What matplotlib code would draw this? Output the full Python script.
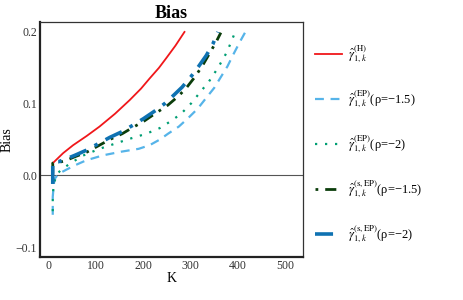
import numpy as np
import matplotlib.pyplot as plt

plt.rcParams['font.family'] = ['Liberation Serif', 'DejaVu Serif']
plt.rcParams['mathtext.fontset'] = 'stix'

# estimator curves (K, bias)
k_h = [8, 30, 51, 80, 107, 140, 171, 195, 213, 233, 249, 268, 287]
bias_h = [0.017, 0.031, 0.042, 0.055, 0.068, 0.086, 0.105, 0.121, 0.135, 0.150,
          0.164, 0.181, 0.200]

k_ep15 = [8, 8, 10, 12, 20, 37, 55, 79, 115, 153, 190, 213, 235, 252, 275, 295,
          315, 333, 350, 363, 378, 390, 405, 416]
bias_ep15 = [-0.055, -0.03, -0.014, -0.005, 0.002, 0.008, 0.014, 0.021, 0.028, 0.033,
             0.037, 0.042, 0.050, 0.058, 0.068, 0.080, 0.093, 0.108, 0.122, 0.136,
             0.152, 0.168, 0.187, 0.200]

k_ep2 = [8, 8, 10, 17, 28, 44, 70, 107, 139, 171, 206, 235, 259, 280, 302, 319,
         339, 358, 377, 392]
bias_ep2 = [-0.050, -0.03, -0.012, 0.002, 0.009, 0.016, 0.027, 0.037, 0.044, 0.051,
            0.058, 0.066, 0.076, 0.086, 0.101, 0.115, 0.131, 0.150, 0.172, 0.196]

k_sep15 = [8, 8, 12, 20, 33, 55, 79, 104, 129, 155, 178, 200, 220, 252, 275, 291,
           310, 326, 340, 354, 364]
bias_sep15 = [-0.011, 0.017, 0.018, 0.018, 0.020, 0.026, 0.032, 0.041, 0.050, 0.058,
              0.067, 0.075, 0.084, 0.098, 0.111, 0.122, 0.138, 0.154, 0.170, 0.186, 0.199]

k_sep2 = [8, 8, 12, 20, 33, 55, 79, 104, 129, 155, 178, 200, 227, 245, 263, 282,
          300, 317, 333, 347, 358]
bias_sep2 = [-0.012, 0.018, 0.019, 0.019, 0.022, 0.028, 0.035, 0.044, 0.053, 0.061,
             0.070, 0.079, 0.091, 0.100, 0.111, 0.123, 0.137, 0.152, 0.167, 0.183, 0.200]

labels = [
    r'$\hat{\gamma}^{(\mathrm{H})}_{1,k}$',
    r'$\hat{\gamma}^{(\mathrm{EP})}_{1,k}$(ρ=−1.5)',
    r'$\hat{\gamma}^{(\mathrm{EP})}_{1,k}$(ρ=−2)',
    r'$\hat{\gamma}^{(\mathrm{s,EP})}_{1,k}$(ρ=−1.5)',
    r'$\hat{\gamma}^{(\mathrm{s,EP})}_{1,k}$(ρ=−2)',
]

fig = plt.figure(figsize=(4.63, 3.0), dpi=100)
ax = fig.add_axes([0.0864, 0.143, 0.568, 0.784])

ax.axhline(0, color='#555555', lw=0.8, zorder=1)
ax.plot(k_h, bias_h, color='#f0171a', lw=1.3, label=labels[0])
ax.plot(k_ep15, bias_ep15, color='#56b4e9', lw=1.6, dashes=(4, 3), label=labels[1])
ax.plot(k_ep2, bias_ep2, color='#009e73', lw=1.6, dashes=(1, 3.5), label=labels[2])
ax.plot(k_sep15, bias_sep15, color='#0b3d0b', lw=2.0, dashes=(1, 2.5, 4, 2.5), label=labels[3])
ax.plot(k_sep2, bias_sep2, color='#0f72b2', lw=2.6, dashes=(5, 2.5, 1, 2.5), label=labels[4])

ax.set_xlim(-19, 538)
ax.set_ylim(-0.114, 0.214)
ax.set_xticks([0, 100, 200, 300, 400, 500])
ax.set_yticks([-0.1, 0.0, 0.1, 0.2])
ax.set_yticklabels(['−0.1', '0.0', '0.1', '0.2'])
ax.tick_params(length=0, labelsize=8.5, pad=2, colors='#333333')
for s in ['left', 'bottom']:
    ax.spines[s].set_linewidth(1.6)
    ax.spines[s].set_color('#222222')
for s in ['top', 'right']:
    ax.spines[s].set_linewidth(0.9)
    ax.spines[s].set_color('#333333')

ax.set_xlabel('K', fontsize=10, labelpad=0)
ax.set_ylabel('Bias', fontsize=10, labelpad=2)
ax.set_title('Bias', fontsize=13, fontweight='bold', pad=3)

fig.legend(loc='upper left', bbox_to_anchor=(0.655, 0.895), frameon=False,
           fontsize=9, handlelength=2.2, labelspacing=1.85, handletextpad=0.5)

fig.savefig('out.png', dpi=100)
